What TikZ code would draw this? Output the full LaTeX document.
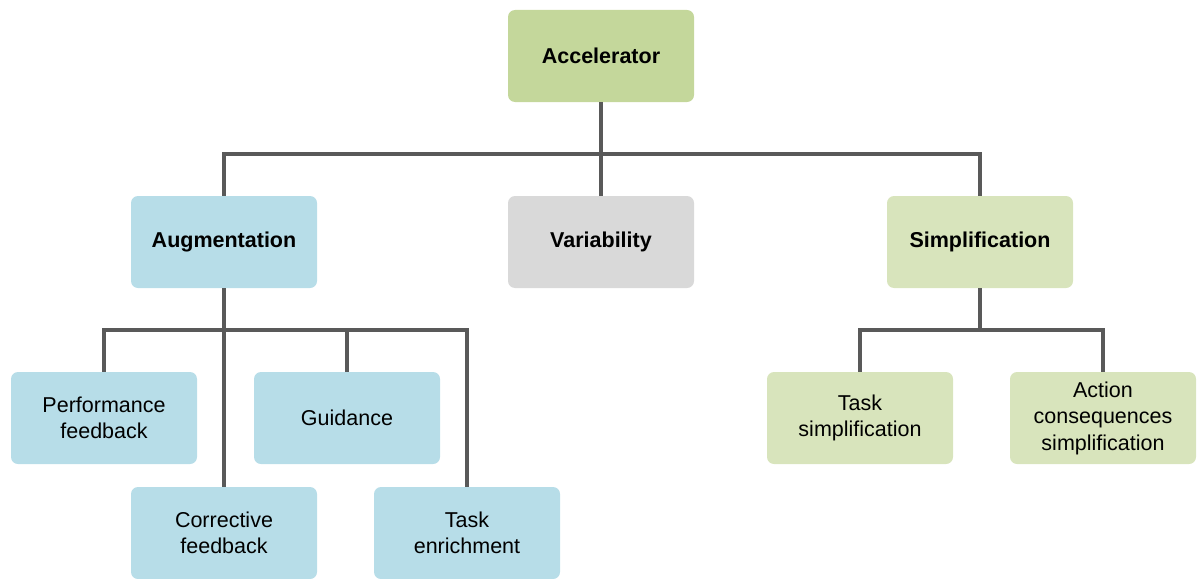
\documentclass[tikz,border=0pt]{standalone}
\usepackage{fontspec}
\setmainfont{Liberation Sans}
\definecolor{accgreen}{HTML}{C4D79B}
\definecolor{augblue}{HTML}{B7DDE8}
\definecolor{vargrey}{HTML}{D9D9D9}
\definecolor{simgreen}{HTML}{D8E4BC}
\definecolor{linkgrey}{HTML}{595959}
\begin{document}
\begin{tikzpicture}[x=1pt,y=-1pt,
  box/.style={rounded corners=7pt, minimum width=186pt, minimum height=92pt,
    inner sep=0pt, align=center, text=black,
    font=\fontsize{21.5}{26.5}\selectfont},
  head/.style={box, font=\fontsize{21.5}{26.5}\selectfont\bfseries},
  link/.style={draw=linkgrey, line width=3.1pt}]
\useasboundingbox (0,0) rectangle (1198,578);

% top level
\node[head, fill=accgreen] (acc) at (601,56) {Accelerator};

% second level
\node[head, fill=augblue]  (aug) at (224,242) {Augmentation};
\node[head, fill=vargrey]  (var) at (601,242) {Variability};
\node[head, fill=simgreen] (sim) at (980,242) {Simplification};

% augmentation branch
\node[box, fill=augblue] (pf) at (104,418) {Performance\\feedback};
\node[box, fill=augblue] (gu) at (347,418) {Guidance};
\node[box, fill=augblue] (cf) at (224,533) {Corrective\\feedback};
\node[box, fill=augblue] (te) at (467,533) {Task\\enrichment};

% simplification branch
\node[box, fill=simgreen] (ts) at (860,418) {Task\\simplification};
\node[box, fill=simgreen] (ac) at (1103,418) {Action\\consequences\\simplification};

% junctions of the tree bars
\coordinate (j1) at (601,154);
\coordinate (j2) at (224,330);
\coordinate (j3) at (980,330);

% connectors
\draw[link] (acc) -- (var);
\draw[link] (aug.north) |- (j1) -| (sim.north);

\draw[link] (aug) -- (cf);
\draw[link] (pf.north) |- (te.north |- j2) -- (te.north);
\draw[link] (gu.north) -- (gu.north |- j2);

\draw[link] (sim.south) -- (j3);
\draw[link] (ts.north) |- (j3) -| (ac.north);
\end{tikzpicture}
\end{document}
